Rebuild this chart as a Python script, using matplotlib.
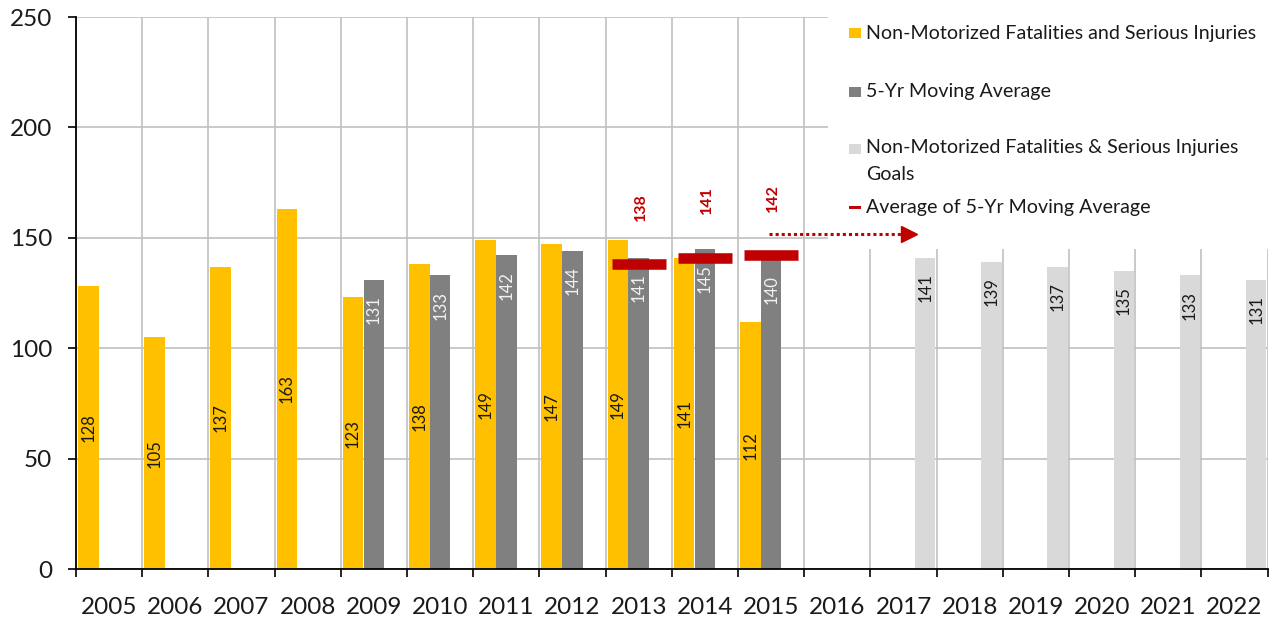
import matplotlib
matplotlib.use("Agg")
import matplotlib.pyplot as plt
import numpy as np
from matplotlib.patches import Rectangle

plt.rcParams['font.family'] = ['Lato', 'DejaVu Sans']

# ---------------- data ----------------
years = ['2005', '2006', '2007', '2008', '2009', '2010', '2011', '2012', '2013',
         '2014', '2015', '2016', '2017', '2018', '2019', '2020', '2021', '2022']

actual_years = ['2005', '2006', '2007', '2008', '2009', '2010', '2011', '2012', '2013', '2014', '2015']
actual_vals = [128, 105, 137, 163, 123, 138, 149, 147, 149, 141, 112]

mavg_years = ['2009', '2010', '2011', '2012', '2013', '2014', '2015']
mavg_vals = [131, 133, 142, 144, 141, 145, 140]

goal_years = ['2017', '2018', '2019', '2020', '2021', '2022']
goal_vals = [141, 139, 137, 135, 133, 131]

avg_years = ['2013', '2014', '2015']
avg_vals = [138, 141, 142]

legend_labels = ['Non-Motorized Fatalities and Serious Injuries',
                 '5-Yr Moving Average',
                 'Non-Motorized Fatalities & Serious Injuries',
                 'Goals',
                 'Average of 5-Yr Moving Average']

# ---------------- style ----------------
YELLOW = '#FFC000'
GRAY = '#808080'
LIGHT = '#D9D9D9'
RED = '#C00000'
TXT = '#1a1a1a'
GRID = '#C0C0C0'

W_FIG, H_FIG = 1273, 618
fig = plt.figure(figsize=(W_FIG / 100, H_FIG / 100), dpi=100)
ax = fig.add_axes([76 / W_FIG, 49 / H_FIG, 1191.7 / W_FIG, 552 / H_FIG])

idx = {y: i for i, y in enumerate(years)}
BW = 0.31
OFF_A, OFF_M, OFF_G = 0.185, 0.50, 0.826
LBL = 12

# actual
xa = [idx[y] + OFF_A for y in actual_years]
ax.bar(xa, actual_vals, width=BW, color=YELLOW, zorder=2)
for x, v in zip(xa, actual_vals):
    ax.text(x, v / 2, str(v), rotation=90, ha='center', va='center',
            fontsize=LBL, color=TXT, zorder=5)

# moving average
xm = [idx[y] + OFF_M for y in mavg_years]
ax.bar(xm, mavg_vals, width=BW, color=GRAY, zorder=2)
for x, v in zip(xm, mavg_vals):
    ax.text(x, v - 13.5, str(v), rotation=90, ha='center', va='center',
            fontsize=LBL, color='#F2F2F2', zorder=5)

# goals
xg = [idx[y] + OFF_G for y in goal_years]
ax.bar(xg, goal_vals, width=BW, color=LIGHT, zorder=2)
for x, v in zip(xg, goal_vals):
    ax.text(x, v - 13.5, str(v), rotation=90, ha='center', va='center',
            fontsize=LBL, color=TXT, zorder=5)

# average of moving average markers
for y, v in zip(avg_years, avg_vals):
    i = idx[y]
    ax.plot([i + 0.09, i + 0.91], [v, v], color=RED, linewidth=7.6,
            solid_capstyle='butt', zorder=4)
    ax.text(i + 0.53, v + 26, str(v), rotation=90, ha='center', va='center',
            fontsize=11.5, fontweight='bold', color=RED, zorder=5)

# legend background box (covers the grid in the upper right)
ax.add_patch(Rectangle((828 / W_FIG, 1 - 249 / H_FIG), 1 - 828 / W_FIG, 249 / H_FIG,
                       transform=fig.transFigure, facecolor='white', edgecolor='none',
                       zorder=3, clip_on=False))

# dotted arrow
arrow_y = 151.5
x0 = idx['2015'] + 0.47
x1 = idx['2017'] + 0.46
ax.plot([x0, x1], [arrow_y, arrow_y], color=RED, linewidth=2.2,
        linestyle=(0, (1, 1)), zorder=6, clip_on=False)
ax.plot([x1 + 0.12], [arrow_y], marker='>', markersize=11, color=RED,
        linestyle='none', zorder=6, clip_on=False)

# axes
ax.set_xlim(0, len(years))
ax.set_ylim(0, 250)
ax.set_yticks(np.arange(0, 251, 50))
ax.set_xticks(np.arange(len(years) + 1))
ax.set_xticklabels([])
ax.set_xticks(np.arange(len(years)) + 0.5, minor=True)
ax.set_xticklabels(years, minor=True)
ax.tick_params(axis='x', which='major', length=6, width=1.2, direction='out', color='black')
ax.tick_params(axis='x', which='minor', length=0, pad=20, labelsize=17.5, labelcolor=TXT)
ax.tick_params(axis='y', length=6, width=1.2, direction='out', pad=11,
               labelsize=17.5, labelcolor=TXT)
ax.set_axisbelow(True)
ax.grid(True, which='major', color=GRID, linewidth=1.2)
for s in ['top', 'right']:
    ax.spines[s].set_visible(False)
for s in ['left', 'bottom']:
    ax.spines[s].set_linewidth(1.3)
    ax.spines[s].set_color('black')

# legend (manual)
def fx(px):
    return px / W_FIG

def fy(py):
    return 1 - py / H_FIG

leg_size = 13
t0 = fig.text(fx(866), fy(33), legend_labels[0], fontsize=leg_size, va='center',
              ha='left', color=TXT)
renderer = fig.canvas.get_renderer()
w = t0.get_window_extent(renderer).width
leg_size = leg_size * 390 / w
t0.set_fontsize(leg_size)

for lab, cy in zip(legend_labels[1:], [91, 148, 174, 207]):
    fig.text(fx(866), fy(cy), lab, fontsize=leg_size, va='center', ha='left', color=TXT)

for cy, col in [(33, YELLOW), (92, GRAY), (149, LIGHT)]:
    fig.add_artist(Rectangle((fx(849), fy(cy + 5)), 12 / W_FIG, 10 / H_FIG,
                             transform=fig.transFigure, facecolor=col, edgecolor='none'))
fig.add_artist(Rectangle((fx(849), fy(208.5)), 12 / W_FIG, 3 / H_FIG,
                         transform=fig.transFigure, facecolor=RED, edgecolor='none'))

fig.savefig('out.png', dpi=100)
